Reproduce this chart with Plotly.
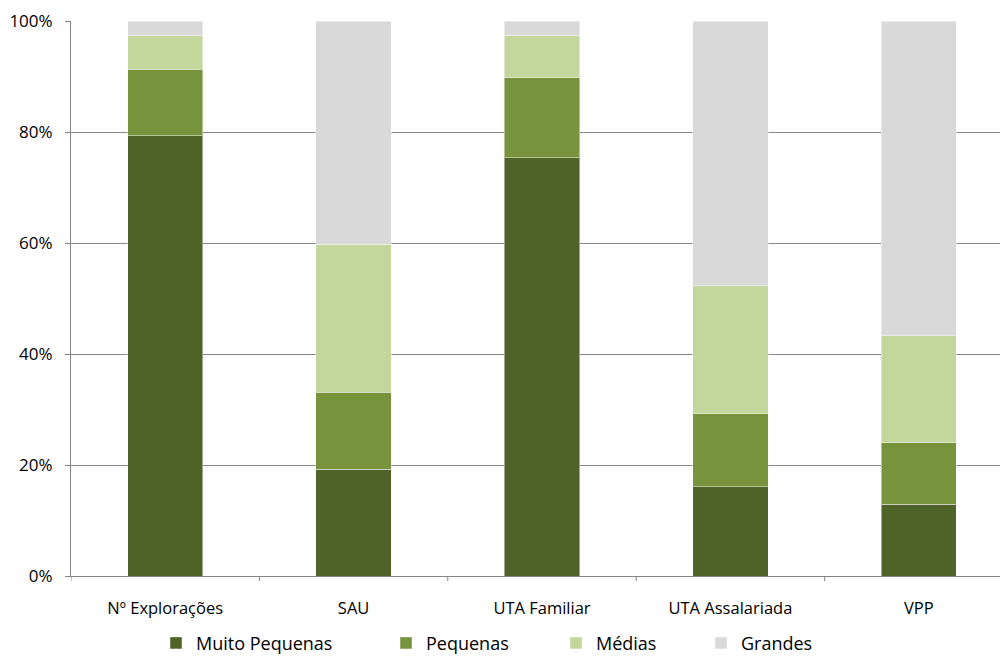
import plotly.graph_objects as go

categories = ["Nº Explorações", "SAU", "UTA Familiar", "UTA Assalariada", "VPP"]
muito_pequenas = [79.3, 19.2, 75.4, 16.1, 12.9]
pequenas = [12.0, 13.9, 14.4, 13.1, 11.1]
medias = [6.0, 26.7, 7.5, 23.1, 19.3]
grandes = [2.7, 40.2, 2.7, 47.7, 56.7]

series = [
    ("Muito Pequenas", muito_pequenas, "#4F6228"),
    ("Pequenas", pequenas, "#77933C"),
    ("Médias", medias, "#C3D69B"),
    ("Grandes", grandes, "#D9D9D9"),
]
legend_x = [0.156, 0.386, 0.556, 0.701]

font_family = "Open Sans, Noto Sans, sans-serif"

fig = go.Figure()
for i, (name, vals, color) in enumerate(series):
    fig.add_trace(go.Bar(
        x=list(range(len(categories))), y=vals, name=name,
        marker=dict(color=color, line=dict(color="rgba(255,255,255,0.45)", width=1)),
        width=0.4,
        legend="legend" if i == 0 else f"legend{i+1}",
    ))

layout_legends = {}
for i, lx in enumerate(legend_x):
    key = "legend" if i == 0 else f"legend{i+1}"
    layout_legends[key] = dict(
        x=lx, y=0.021, xref="container", yref="container",
        xanchor="left", yanchor="middle",
        font=dict(size=18, color="#000000", family=font_family),
        itemwidth=30, bgcolor="rgba(0,0,0,0)", traceorder="normal",
    )

fig.update_layout(
    width=1000, height=657,
    margin=dict(l=71, r=0, t=21, b=81, autoexpand=False),
    paper_bgcolor="white", plot_bgcolor="white",
    barmode="stack",
    showlegend=True,
    **layout_legends,
    xaxis=dict(
        range=[-0.5, 4.431],
        tickmode="array", tickvals=list(range(len(categories))), ticktext=categories,
        showgrid=False, zeroline=False,
        showline=True, linecolor="#868686", linewidth=1,
        ticks="", tickfont=dict(size=16.5, color="#000000", family=font_family),
        tickangle=0, ticklabelstandoff=17,
        automargin=False, fixedrange=True,
    ),
    yaxis=dict(
        range=[0, 100], tickmode="array", tickvals=[0, 20, 40, 60, 80, 100],
        ticktext=["0%", "20%", "40%", "60%", "80%", "100%"],
        showgrid=True, gridcolor="#868686", gridwidth=1,
        zeroline=False, showline=True, linecolor="#868686", linewidth=1,
        ticks="outside", ticklen=5, tickcolor="#868686",
        tickfont=dict(size=17, color="#000000", family=font_family),
        ticklabelstandoff=9,
        automargin=False, fixedrange=True,
    ),
)

# category boundary tick marks under the x axis
for b in [-0.5, 0.5, 1.5, 2.5, 3.5]:
    fig.add_shape(type="line", xref="x", yref="paper", x0=b, x1=b, y0=0, y1=-0.009,
                  line=dict(color="#868686", width=1))

fig.write_html("out.html")
